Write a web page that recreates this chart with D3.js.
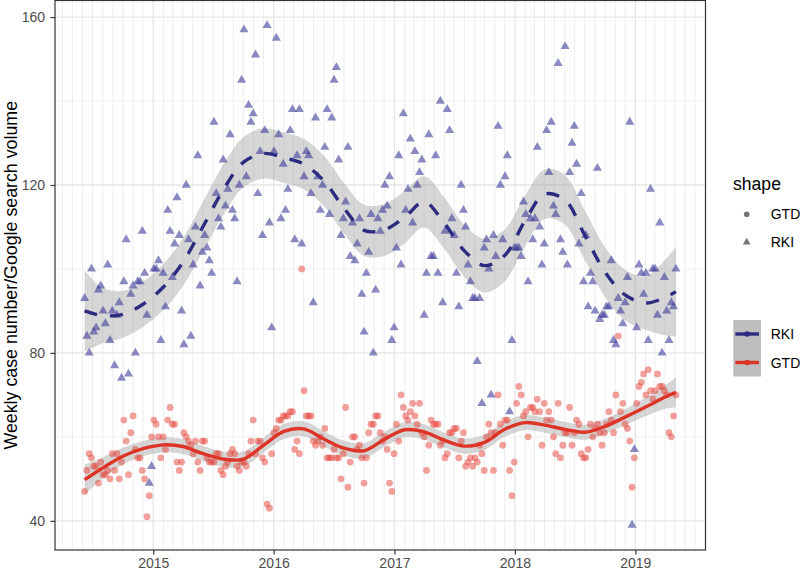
<!DOCTYPE html>
<html>
<head>
<meta charset="utf-8">
<script src="https://cdn.jsdelivr.net/npm/d3@7"></script>
<style>
  body { margin: 0; background: #fff; }
  svg { display: block; font-family: 'Liberation Sans', Arial, Helvetica, sans-serif; }
</style>
</head>
<body>
<div id="chart"></div>
<script>
// weekly series, first week at startDate
const startDate = '2014-06-07';

const rkiCases = [
  93, 84, 80, 100, 85, 86, 95, 96, 90, 87,
  101, 83, 90, 77, 89, 92, 74, 97, 107, 75,
  94, 96, 80, 97, 97, 109, 99, 89, 49, 53,
  100, 100, 102, 83, 99, 91, 114, 109, 98, 106,
  117, 108, 90, 82, 120, 107, 84, 101, 110, 127,
  96, 104, 108, 105, 102, 99, 135, 118, 112, 110,
  126, 115, 119, 132, 114, 112, 97, 120, 145, 157,
  122, 139, 135, 137, 151, 118, 128, 108, 133, 158,
  111, 86, 128, 155, 132, 112, 125, 114, 119, 133,
  138, 107, 127, 138, 106, 122, 128, 127, 118, 92,
  136, 122, 114, 120, 129, 138, 113, 136, 145, 148,
  126, 108, 112, 116, 129, 103, 111, 102, 106, 112,
  94, 85, 99, 104, 113, 80, 95, 112, 109, 114,
  120, 115, 122, 83, 86, 105, 127, 101, 137, 114,
  119, 131, 111, 128, 120, 123, 126, 89, 99, 132,
  103, 103, 127, 99, 140, 92, 109, 138, 133, 112,
  108, 99, 91, 120, 114, 110, 101, 97, 93, 93,
  78, 93, 68, 105, 107, 100, 70, 108, 103, 134,
  120, 107, 122, 127, 66, 83, 105, 105, 105, 103,
  116, 113, 97, 112, 107, 112, 129, 110, 101, 106,
  133, 123, 135, 115, 113, 149, 107, 104, 153, 101,
  123, 130, 134, 125, 106, 118, 97, 108, 91, 99,
  97, 90, 124, 88, 89, 89, 91, 91, 102, 83,
  82, 93, 90, 87, 92, 98, 135, 39, 57, 86,
  101, 99, 94, 99, 83, 119, 100, 100, 89, 111,
  80, 98, 90, 83, 92, 91, 100
];

const gtdVolume = [
  47, 52, 56, 55, 53, 53, 49, 54, 51, 51,
  52, 50, 56, 52, 56, 50, 54, 64, 59, 51,
  61, 65, 57, 55, 55, 52, 50, 41, 46, 60,
  64, 63, 60, 55, 60, 57, 64, 67, 63, 63,
  54, 52, 54, 61, 60, 59, 58, 56, 59, 54,
  52, 59, 59, 55, 54, 54, 54, 56, 56, 52,
  51, 53, 54, 56, 57, 56, 53, 52, 54, 54,
  53, 56, 59, 64, 56, 59, 59, 55, 54, 44,
  43, 56, 61, 62, 64, 64, 65, 65, 65, 66,
  66, 57, 59, 56, 100, 71, 65, 65, 65, 59,
  58, 59, 60, 58, 62, 55, 55, 55, 57, 55,
  55, 50, 56, 67, 48, 54, 60, 60, 57, 58,
  55, 49, 55, 61, 63, 63, 65, 65, 61, 59,
  60, 57, 49, 47, 56, 63, 59, 70, 67, 65,
  64, 66, 68, 65, 63, 68, 61, 60, 52, 58,
  64, 63, 63, 63, 58, 59, 55, 56, 61, 61,
  62, 62, 55, 59, 61, 53, 54, 55, 53, 55,
  54, 58, 56, 52, 60, 63, 61, 52, 61, 70,
  63, 58, 64, 64, 52, 46, 54, 68, 72, 70,
  65, 66, 60, 67, 67, 66, 69, 66, 58, 68,
  64, 66, 64, 60, 56, 68, 55, 58, 61, 61,
  67, 58, 61, 64, 63, 56, 55, 55, 57, 63,
  60, 62, 63, 61, 58, 61, 63, 66, 64, 61,
  70, 84, 66, 68, 63, 62, 59, 48, 55, 68,
  72, 73, 75, 70, 76, 71, 69, 71, 75, 72,
  72, 71, 70, 61, 60, 65, 70
];

const yTicks = [40, 80, 120, 160];
const xTickYears = [2015, 2016, 2017, 2018, 2019];

// smoother (fit and half width of the grey band) read at these dates
const smoothDates = [
  '2014-06-07', '2014-08-01', '2014-10-01', '2014-12-01', '2015-02-01',
  '2015-04-01', '2015-06-01', '2015-08-01', '2015-10-01', '2015-12-01',
  '2016-02-01', '2016-04-01', '2016-06-01', '2016-08-01', '2016-10-01',
  '2016-12-01', '2017-02-01', '2017-04-01', '2017-06-01', '2017-08-01',
  '2017-10-01', '2017-12-01', '2018-02-01', '2018-04-01', '2018-06-01',
  '2018-08-01', '2018-10-01', '2018-12-01', '2019-02-01', '2019-04-01',
  '2019-05-04'
];
const rkiFit = [
  90.0, 88.9, 89.2, 91.6, 95.7, 101.6, 110.1, 118.8, 125.4, 127.5,
  126.5, 125.0, 121.0, 114.5, 109.2, 109.3, 112.3, 116.0, 110.9, 104.3,
  100.8, 103.2, 111.5, 117.8, 116.5, 108.0, 99.3, 93.8, 91.9, 93.2, 94.6
];
const rkiHalf = [
  9.7, 6.6, 5.6, 5.4, 5.5, 5.7, 5.9, 6.0, 6.0, 6.0,
  6.0, 6.0, 6.0, 6.0, 6.1, 6.2, 6.2, 6.1, 6.1, 6.2,
  6.4, 6.2, 6.0, 5.9, 5.9, 5.9, 5.9, 6.0, 6.4, 9.0, 10.7
];
const gtdFit = [
  49.8, 52.6, 55.4, 57.2, 58.1, 57.7, 56.0, 54.7, 54.7, 58.0,
  61.3, 61.9, 59.5, 57.3, 56.7, 59.4, 61.7, 61.2, 59.2, 57.8,
  58.7, 61.8, 63.4, 62.8, 61.8, 61.1, 62.5, 64.7, 67.1, 69.5, 70.6
];
const gtdHalf = [
  3.6, 2.5, 2.0, 1.8, 1.8, 1.8, 1.8, 1.8, 1.8, 1.8,
  1.8, 1.8, 1.8, 1.8, 1.8, 1.8, 1.8, 1.8, 1.8, 1.8,
  1.8, 1.8, 1.8, 1.8, 1.8, 1.8, 1.8, 1.9, 2.2, 2.8, 3.6
];

const shapeKeys = ['GTD', 'RKI'];
const lineKeys = ['RKI', 'GTD'];

const colors = {
  RKI: {point: '#3d3a99', line: '#2c2b80'},
  GTD: {point: '#e6413a', line: '#dd3427'}
};

const option = {
  width: 800,
  height: 570,
  margin: {top: 0.5, right: 94.5, bottom: 20, left: 55}
};

const parse = d3.utcParse('%Y-%m-%d');
const start = parse(startDate);
const weeks = rkiCases.map((v, i) => d3.utcDay.offset(start, 7 * i));
const rkiData = rkiCases.map((v, i) => ({date: weeks[i], value: v}));
const gtdData = gtdVolume.map((v, i) => ({date: weeks[i], value: v}));
const knots = smoothDates.map(parse);
const toSmooth = (fit, half) => fit.map((f, i) => ({date: knots[i], fit: f, lo: f - half[i], hi: f + half[i]}));
const rkiSmooth = toSmooth(rkiFit, rkiHalf);
const gtdSmooth = toSmooth(gtdFit, gtdHalf);

const panel = {
  left: option.margin.left,
  right: option.width - option.margin.right,
  top: option.margin.top,
  bottom: option.height - option.margin.bottom
};

// ggplot style 5% expansion
const xExt = d3.extent(weeks);
const xPad = (xExt[1] - xExt[0]) * 0.05;
const x = d3.scaleUtc()
    .domain([new Date(+xExt[0] - xPad), new Date(+xExt[1] + xPad)])
    .range([panel.left, panel.right]);

const yExt = d3.extent(rkiCases.concat(gtdVolume));
const yPad = (yExt[1] - yExt[0]) * 0.05;
const y = d3.scaleLinear()
    .domain([yExt[0] - yPad, yExt[1] + yPad])
    .range([panel.bottom, panel.top]);

const svg = d3.select('#chart')
    .append('svg')
    .attr('width', option.width)
    .attr('height', option.height);

// grid
const grid = svg.append('g');
const yMinor = d3.pairs(yTicks).map(([a, b]) => (a + b) / 2);
const months = d3.utcMonth.range(x.domain()[0], x.domain()[1]).filter((d) => d.getUTCMonth() !== 0);
const years = xTickYears.map((yr) => new Date(Date.UTC(yr, 0, 1)));

grid.append('g')
    .selectAll('line')
    .data(months)
    .join('line')
    .attr('x1', (d) => x(d)).attr('x2', (d) => x(d))
    .attr('y1', panel.top).attr('y2', panel.bottom)
    .attr('stroke', '#e9e9e9')
    .attr('stroke-width', 0.8);

grid.append('g')
    .selectAll('line')
    .data(yMinor)
    .join('line')
    .attr('x1', panel.left).attr('x2', panel.right)
    .attr('y1', (d) => y(d)).attr('y2', (d) => y(d))
    .attr('stroke', '#ececec')
    .attr('stroke-width', 0.8);

grid.append('g')
    .selectAll('line')
    .data(years)
    .join('line')
    .attr('x1', (d) => x(d)).attr('x2', (d) => x(d))
    .attr('y1', panel.top).attr('y2', panel.bottom)
    .attr('stroke', '#e6e6e6')
    .attr('stroke-width', 1.3);

grid.append('g')
    .selectAll('line')
    .data(yTicks)
    .join('line')
    .attr('x1', panel.left).attr('x2', panel.right)
    .attr('y1', (d) => y(d)).attr('y2', (d) => y(d))
    .attr('stroke', '#e6e6e6')
    .attr('stroke-width', 1.3);

// confidence bands
const band = d3.area()
    .x((d) => x(d.date))
    .y0((d) => y(d.lo))
    .y1((d) => y(d.hi))
    .curve(d3.curveCatmullRom);

svg.append('g')
    .selectAll('path')
    .data([rkiSmooth, gtdSmooth])
    .join('path')
    .attr('d', band)
    .attr('fill', '#999999')
    .attr('fill-opacity', 0.4);

// points
svg.append('g')
    .selectAll('circle')
    .data(gtdData)
    .join('circle')
    .attr('cx', (d) => x(d.date))
    .attr('cy', (d) => y(d.value))
    .attr('r', 3.4)
    .attr('fill', colors.GTD.point)
    .attr('fill-opacity', 0.5);

const tri = d3.symbol(d3.symbolTriangle, 36);
svg.append('g')
    .selectAll('path')
    .data(rkiData)
    .join('path')
    .attr('d', tri)
    .attr('transform', (d) => `translate(${x(d.date)},${y(d.value)})`)
    .attr('fill', colors.RKI.point)
    .attr('fill-opacity', 0.6);

// fitted lines
const fitLine = d3.line()
    .x((d) => x(d.date))
    .y((d) => y(d.fit))
    .curve(d3.curveCatmullRom);

svg.append('path')
    .datum(gtdSmooth)
    .attr('d', fitLine)
    .attr('fill', 'none')
    .attr('stroke', colors.GTD.line)
    .attr('stroke-width', 3.4);

svg.append('path')
    .datum(rkiSmooth)
    .attr('d', fitLine)
    .attr('fill', 'none')
    .attr('stroke', colors.RKI.line)
    .attr('stroke-width', 3.4)
    .attr('stroke-dasharray', '13,13');

// panel border
svg.append('rect')
    .attr('x', panel.left)
    .attr('y', panel.top)
    .attr('width', panel.right - panel.left)
    .attr('height', panel.bottom - panel.top)
    .attr('fill', 'none')
    .attr('stroke', '#333333')
    .attr('stroke-width', 1.2);

// axes
const xAxis = d3.axisBottom(x)
    .tickValues(years)
    .tickFormat(d3.utcFormat('%Y'))
    .tickSize(4.5)
    .tickPadding(3.5);

const yAxis = d3.axisLeft(y)
    .tickValues(yTicks)
    .tickSize(4.5)
    .tickPadding(5.5);

svg.append('g')
    .attr('transform', `translate(0,${panel.bottom})`)
    .call(xAxis);

svg.append('g')
    .attr('transform', `translate(${panel.left},0)`)
    .call(yAxis);

svg.selectAll('.domain').remove();
svg.selectAll('.tick line').attr('stroke', '#333333').attr('stroke-width', 1.2);
svg.selectAll('.tick text')
    .attr('fill', '#4d4d4d')
    .attr('font-size', 14)
    .attr('font-family', null);

svg.append('text')
    .attr('transform', `translate(16.5,${(panel.top + panel.bottom) / 2}) rotate(-90)`)
    .attr('text-anchor', 'middle')
    .attr('font-size', 17.8)
    .attr('fill', '#000')
    .text('Weekly case number/Google search volume');

// legend: shape
const legend = svg.append('g');
legend.append('text')
    .attr('x', 733)
    .attr('y', 189.5)
    .attr('font-size', 17.6)
    .text('shape');

const shapeRow = legend.append('g')
    .selectAll('g')
    .data(shapeKeys)
    .join('g')
    .attr('transform', (d, i) => `translate(746.7,${214.3 + i * 28})`);

shapeRow.filter((d) => d === 'GTD')
    .append('circle')
    .attr('r', 2.8)
    .attr('fill', '#000')
    .attr('fill-opacity', 0.55);

shapeRow.filter((d) => d === 'RKI')
    .append('path')
    .attr('d', d3.symbol(d3.symbolTriangle, 26))
    .attr('fill', '#000')
    .attr('fill-opacity', 0.55);

shapeRow.append('text')
    .attr('x', 24)
    .attr('y', 5)
    .attr('font-size', 14)
    .text((d) => d);

// legend: smoothers
legend.append('rect')
    .attr('x', 733.3)
    .attr('y', 320)
    .attr('width', 27.7)
    .attr('height', 56.5)
    .attr('fill', '#bebebe');

const lineRow = legend.append('g')
    .selectAll('g')
    .data(lineKeys)
    .join('g')
    .attr('transform', (d, i) => `translate(733.3,${334 + i * 28.5})`);

lineRow.append('line')
    .attr('x1', 2).attr('x2', 25.7)
    .attr('stroke', (d) => colors[d].line)
    .attr('stroke-width', 3.4);

lineRow.append('circle')
    .attr('cx', 13.85)
    .attr('r', 2.8)
    .attr('fill', (d) => colors[d].line);

lineRow.append('text')
    .attr('x', 37.4)
    .attr('y', 5)
    .attr('font-size', 14)
    .text((d) => d);
</script>
</body>
</html>
